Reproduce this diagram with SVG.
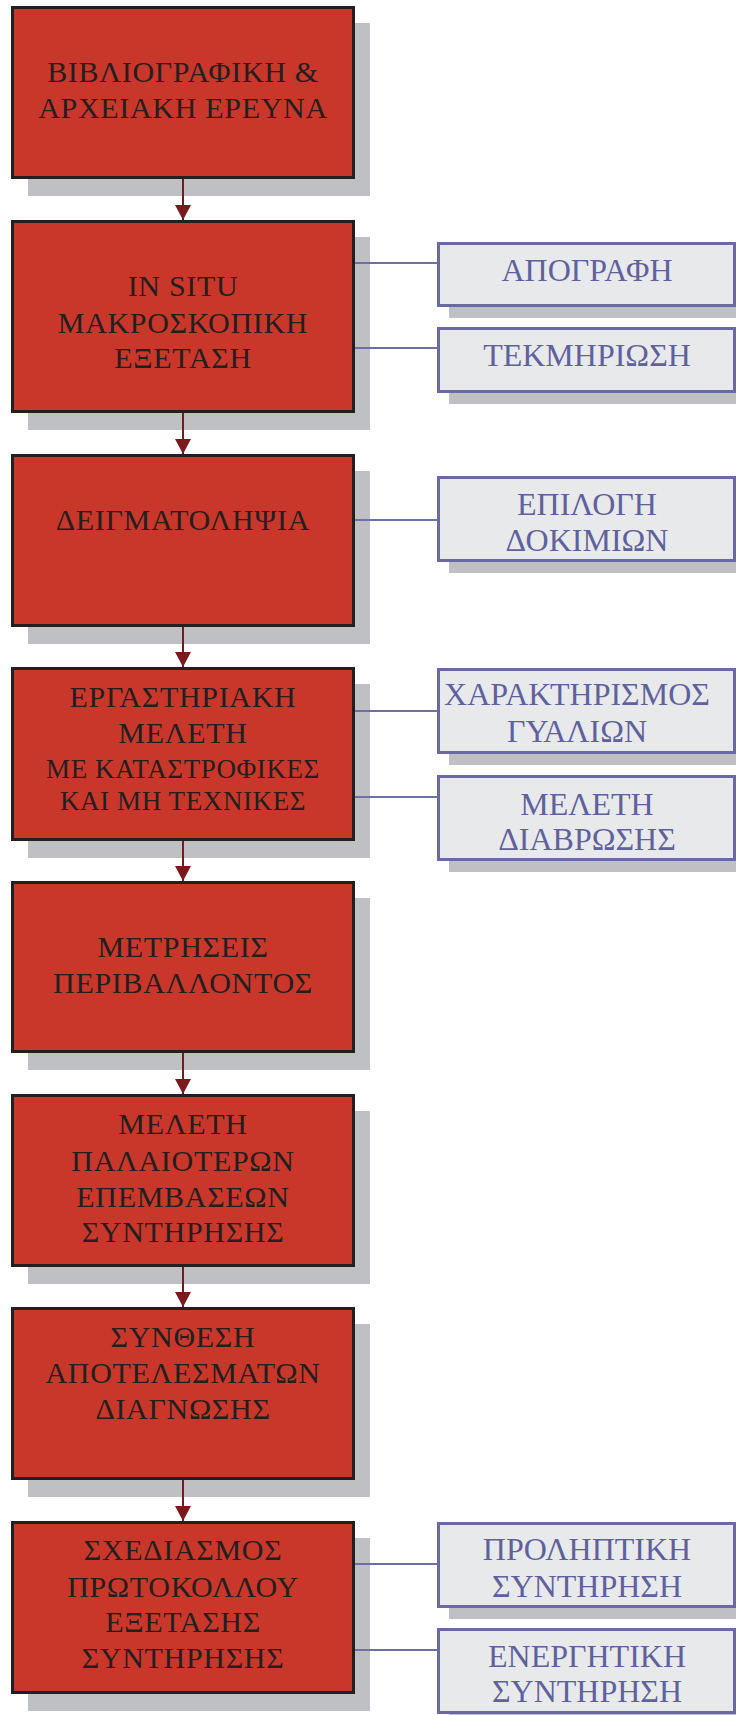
<svg xmlns="http://www.w3.org/2000/svg" width="736" height="1715" viewBox="0 0 736 1715">
<style>
.shadow{fill:#bfc0c4}
.main{fill:#c8372a;stroke:#231f20;stroke-width:3}
.side{fill:#e8e9eb;stroke:#6a69a3;stroke-width:3}
.mt{font-family:"Liberation Serif","DejaVu Serif",serif;font-size:30px;letter-spacing:0.7px;fill:#231f20;text-anchor:middle}
.mt4{font-family:"Liberation Serif","DejaVu Serif",serif;font-size:27px;letter-spacing:0.6px;fill:#231f20;text-anchor:middle}
.st{font-family:"Liberation Serif","DejaVu Serif",serif;font-size:32px;fill:#5f619d;text-anchor:middle}
.arrow{stroke:#7b1a1c;stroke-width:2;fill:none}
.link{stroke:#6f6fa8;stroke-width:2;fill:none}
</style>
<defs>
<marker id="ah" markerUnits="userSpaceOnUse" markerWidth="16" markerHeight="16" refX="15" refY="8" orient="auto" viewBox="0 0 16 16">
<path d="M0,0 L15,8 L0,16 Z" fill="#7b1a1c"/>
</marker>
</defs>

<g id="n1">
<rect class="shadow" x="28" y="23" width="342" height="173"/>
<rect class="main" x="12.5" y="7.5" width="341" height="170"/>
<text class="mt" x="183" y="82">ΒΙΒΛΙΟΓΡΑΦΙΚΗ  &amp;</text>
<text class="mt" x="183" y="118">ΑΡΧΕΙΑΚΗ ΕΡΕΥΝΑ</text>
</g>

<g id="n2">
<rect class="shadow" x="28" y="237" width="342" height="193"/>
<rect class="main" x="12.5" y="221.5" width="341" height="190"/>
<text class="mt" x="183" y="296">IN SITU</text>
<text class="mt" x="183" y="333">ΜΑΚΡΟΣΚΟΠΙΚΗ</text>
<text class="mt" x="183" y="368">ΕΞΕΤΑΣΗ</text>
</g>

<g id="n3">
<rect class="shadow" x="28" y="471" width="342" height="173"/>
<rect class="main" x="12.5" y="455.5" width="341" height="170"/>
<text class="mt" x="183" y="530">ΔΕΙΓΜΑΤΟΛΗΨΙΑ</text>
</g>

<g id="n4">
<rect class="shadow" x="28" y="684" width="342" height="174"/>
<rect class="main" x="12.5" y="668.5" width="341" height="171"/>
<text class="mt" x="183" y="707">ΕΡΓΑΣΤΗΡΙΑΚΗ</text>
<text class="mt" x="183" y="743">ΜΕΛΕΤΗ</text>
<text class="mt4" x="183" y="778">ΜΕ ΚΑΤΑΣΤΡΟΦΙΚΕΣ</text>
<text class="mt4" x="183" y="810">ΚΑΙ ΜΗ ΤΕΧΝΙΚΕΣ</text>
</g>

<g id="n5">
<rect class="shadow" x="28" y="898" width="342" height="172"/>
<rect class="main" x="12.5" y="882.5" width="341" height="169"/>
<text class="mt" x="183" y="957">ΜΕΤΡΗΣΕΙΣ</text>
<text class="mt" x="183" y="993">ΠΕΡΙΒΑΛΛΟΝΤΟΣ</text>
</g>

<g id="n6">
<rect class="shadow" x="28" y="1111" width="342" height="173"/>
<rect class="main" x="12.5" y="1095.5" width="341" height="170"/>
<text class="mt" x="183" y="1134">ΜΕΛΕΤΗ</text>
<text class="mt" x="183" y="1171">ΠΑΛΑΙΟΤΕΡΩΝ</text>
<text class="mt" x="183" y="1207">ΕΠΕΜΒΑΣΕΩΝ</text>
<text class="mt" x="183" y="1242">ΣΥΝΤΗΡΗΣΗΣ</text>
</g>

<g id="n7">
<rect class="shadow" x="28" y="1324" width="342" height="173"/>
<rect class="main" x="12.5" y="1308.5" width="341" height="170"/>
<text class="mt" x="183" y="1347">ΣΥΝΘΕΣΗ</text>
<text class="mt" x="183" y="1383">ΑΠΟΤΕΛΕΣΜΑΤΩΝ</text>
<text class="mt" x="183" y="1419">ΔΙΑΓΝΩΣΗΣ</text>
</g>

<g id="n8">
<rect class="shadow" x="28" y="1538" width="342" height="173"/>
<rect class="main" x="12.5" y="1522.5" width="341" height="170"/>
<text class="mt" x="183" y="1560">ΣΧΕΔΙΑΣΜΟΣ</text>
<text class="mt" x="183" y="1597">ΠΡΩΤΟΚΟΛΛΟΥ</text>
<text class="mt" x="183" y="1632">ΕΞΕΤΑΣΗΣ</text>
<text class="mt" x="183" y="1668">ΣΥΝΤΗΡΗΣΗΣ</text>
</g>

<g id="s1">
<rect class="shadow" x="449" y="253" width="287" height="65"/>
<rect class="side" x="438.5" y="243.5" width="296" height="62"/>
<text class="st" x="587" y="281">ΑΠΟΓΡΑΦΗ</text>
</g>

<g id="s2">
<rect class="shadow" x="449" y="338" width="287" height="66"/>
<rect class="side" x="438.5" y="328.5" width="296" height="63"/>
<text class="st" x="587" y="366">ΤΕΚΜΗΡΙΩΣΗ</text>
</g>

<g id="s3">
<rect class="shadow" x="449" y="487" width="287" height="86"/>
<rect class="side" x="438.5" y="477.5" width="296" height="83"/>
<text class="st" x="587" y="515">ΕΠΙΛΟΓΗ</text>
<text class="st" x="587" y="551">ΔΟΚΙΜΙΩΝ</text>
</g>

<g id="s4">
<rect class="shadow" x="449" y="679" width="287" height="86"/>
<rect class="side" x="438.5" y="669.5" width="296" height="83"/>
<text class="st" x="577" y="705">ΧΑΡΑΚΤΗΡΙΣΜΟΣ</text>
<text class="st" x="577" y="742">ΓΥΑΛΙΩΝ</text>
</g>

<g id="s5">
<rect class="shadow" x="449" y="786" width="287" height="86"/>
<rect class="side" x="438.5" y="776.5" width="296" height="83"/>
<text class="st" x="587" y="815">ΜΕΛΕΤΗ</text>
<text class="st" x="587" y="850">ΔΙΑΒΡΩΣΗΣ</text>
</g>

<g id="s6">
<rect class="shadow" x="449" y="1533" width="287" height="86"/>
<rect class="side" x="438.5" y="1523.5" width="296" height="83"/>
<text class="st" x="587" y="1560">ΠΡΟΛΗΠΤΙΚΗ</text>
<text class="st" x="587" y="1597">ΣΥΝΤΗΡΗΣΗ</text>
</g>

<g id="s7">
<rect class="shadow" x="449" y="1639" width="287" height="86"/>
<rect class="side" x="438.5" y="1629.5" width="296" height="83"/>
<text class="st" x="587" y="1667">ΕΝΕΡΓΗΤΙΚΗ</text>
<text class="st" x="587" y="1702">ΣΥΝΤΗΡΗΣΗ</text>
</g>

<g id="connectors">
<line class="arrow" x1="183" y1="179" x2="183" y2="220" marker-end="url(#ah)"/>
<line class="arrow" x1="183" y1="413" x2="183" y2="454" marker-end="url(#ah)"/>
<line class="arrow" x1="183" y1="627" x2="183" y2="667" marker-end="url(#ah)"/>
<line class="arrow" x1="183" y1="841" x2="183" y2="881" marker-end="url(#ah)"/>
<line class="arrow" x1="183" y1="1053" x2="183" y2="1094" marker-end="url(#ah)"/>
<line class="arrow" x1="183" y1="1267" x2="183" y2="1307" marker-end="url(#ah)"/>
<line class="arrow" x1="183" y1="1480" x2="183" y2="1521" marker-end="url(#ah)"/>
<line class="link" x1="355" y1="263" x2="438" y2="263"/>
<line class="link" x1="355" y1="348" x2="438" y2="348"/>
<line class="link" x1="355" y1="520" x2="438" y2="520"/>
<line class="link" x1="355" y1="711" x2="438" y2="711"/>
<line class="link" x1="355" y1="797" x2="438" y2="797"/>
<line class="link" x1="355" y1="1564" x2="438" y2="1564"/>
<line class="link" x1="355" y1="1650" x2="438" y2="1650"/>
</g>
</svg>
